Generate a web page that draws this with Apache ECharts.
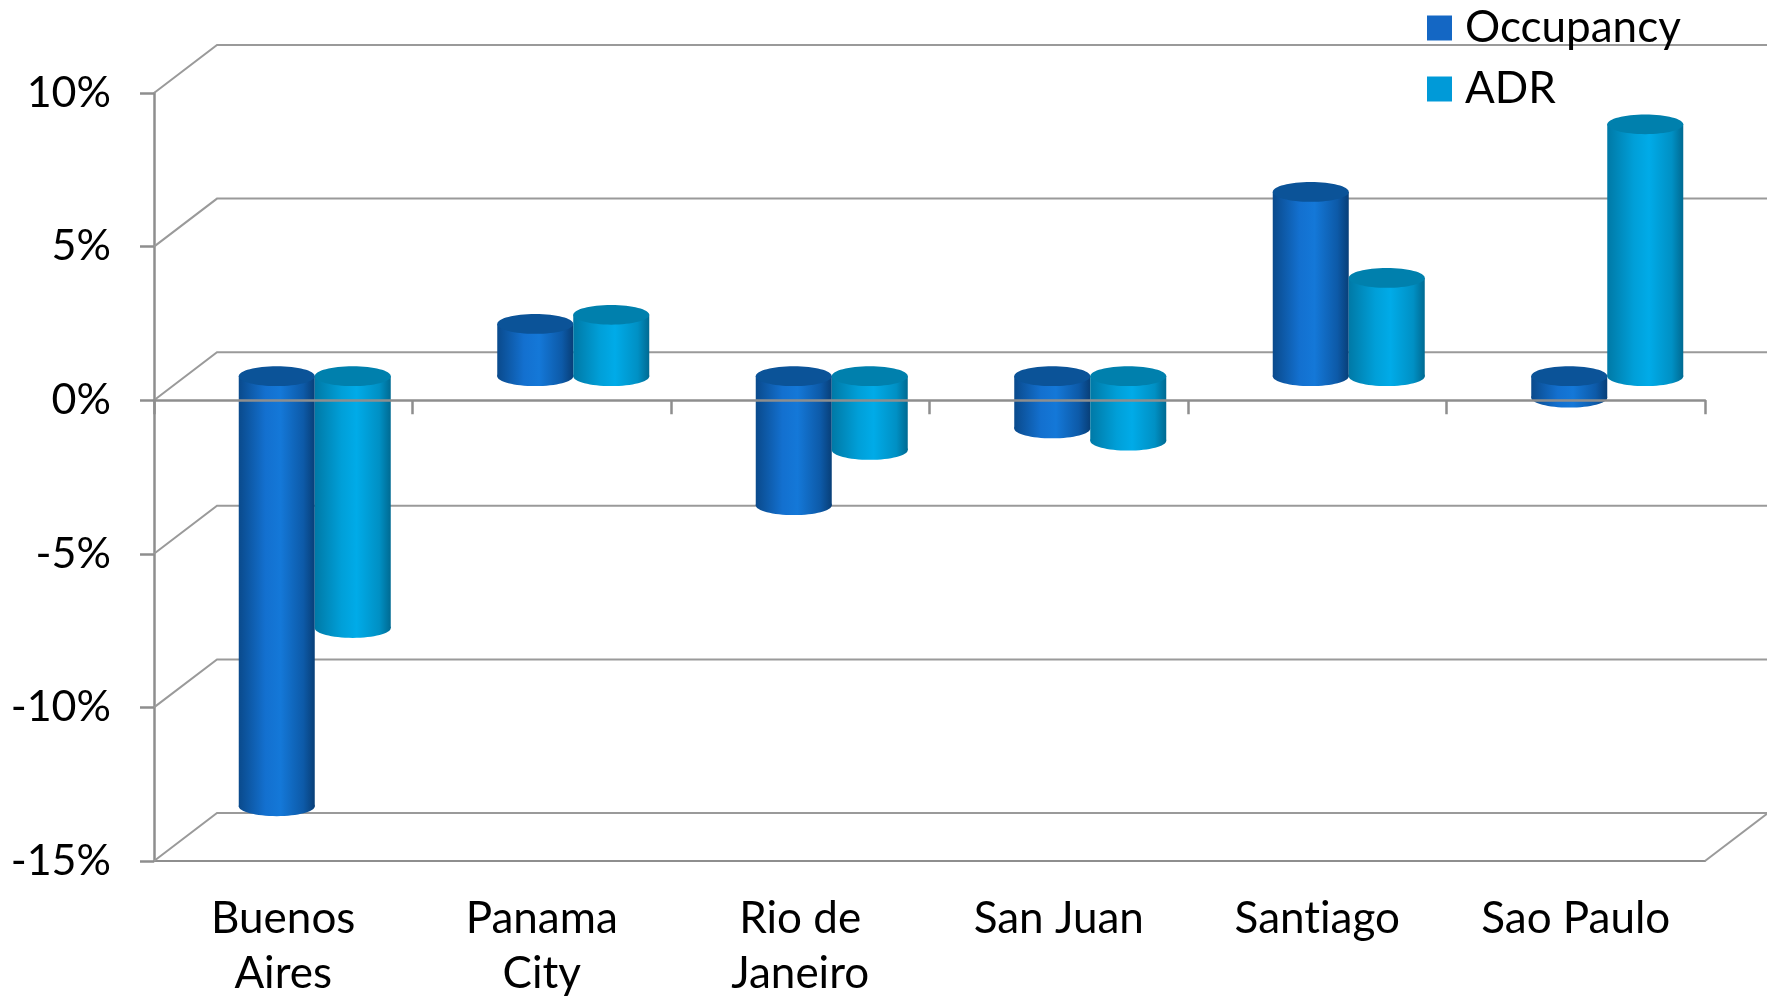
<!DOCTYPE html>
<html>
<head>
<meta charset="utf-8">
<script src="https://cdn.jsdelivr.net/npm/echarts@6/dist/echarts.min.js"></script>
<style>
  html, body { margin: 0; padding: 0; background: #ffffff; }
  #chart { width: 1767px; height: 1001px; }
</style>
</head>
<body>
<div id="chart"></div>
<script>
// Year-over-year change by market
// (a zero-width non-joiner in "Santiago" keeps the font from fusing "ti")
const categories = ['Buenos\nAires', 'Panama\nCity', 'Rio de\nJaneiro', 'San Juan', 'Sant\u200Ciago', 'Sao Paulo'];
const occupancy = [-14.0, 1.7, -4.2, -1.7, 6.0, -0.7];
const adr = [-8.2, 2.0, -2.4, -2.1, 3.2, 8.2];
const yTicks = [-15, -10, -5, 0, 5, 10];

// Pseudo-3D depth of the plot box (back wall offset from the front plane)
const DEPTH_X = 63;
const DEPTH_Y = 48;
const FONT = 'Lato, "Open Sans", sans-serif';
const AXIS_GREY = '#8e8e8e';

const palettes = {
  occupancy: { legend: '#1467c4', cap: '#0b5398', stops: ['#0a4a8c', '#1370cf', '#1478d8', '#0d5aa8', '#083f78'] },
  adr:       { legend: '#009ad8', cap: '#0080ad', stops: ['#0079a6', '#009fd8', '#00abe8', '#0090c4', '#006a92'] }
};

function bodyGradient(p) {
  return {
    type: 'linear', x: 0, y: 0, x2: 1, y2: 0,
    colorStops: [
      { offset: 0, color: p.stops[0] },
      { offset: 0.35, color: p.stops[1] },
      { offset: 0.55, color: p.stops[2] },
      { offset: 0.85, color: p.stops[3] },
      { offset: 1, color: p.stops[4] }
    ]
  };
}

// Cylinder column: side = -1 draws left of the category centre, +1 right of it
function cylinderRenderer(p, side) {
  return function (params, api) {
    const idx = api.value(0);
    const val = api.value(1);
    const end = api.coord([idx, val]);
    const base = api.coord([idx, 0]);
    const band = api.size([1, 0])[0];
    const w = band * 0.294;
    const rx = w / 2;
    const ry = w * 0.13;
    const cx = end[0] + DEPTH_X / 2 + side * w / 2;
    const yv = end[1] - DEPTH_Y / 2;
    const y0 = base[1] - DEPTH_Y / 2;
    const yTop = Math.min(yv, y0);
    const yBot = Math.max(yv, y0);
    const grad = bodyGradient(p);
    return {
      type: 'group',
      children: [
        { type: 'ellipse', shape: { cx: cx, cy: yBot, rx: rx, ry: ry }, style: { fill: grad } },
        { type: 'rect', shape: { x: cx - rx, y: yTop, width: w, height: yBot - yTop }, style: { fill: grad } },
        { type: 'ellipse', shape: { cx: cx, cy: yTop, rx: rx, ry: ry }, style: { fill: p.cap } }
      ]
    };
  };
}

// Back wall grid lines and the floor edge
function wallRenderer(params, api) {
  const cs = params.coordSys;
  const v = api.value(1);
  const y = api.coord([0, v])[1];
  const x0 = cs.x;
  const x1 = cs.x + cs.width;
  const line = { stroke: '#9a9a9a', lineWidth: 2, fill: null };
  const children = [{
    type: 'polyline',
    shape: { points: [[x0, y], [x0 + DEPTH_X, y - DEPTH_Y], [x1 + DEPTH_X + 5, y - DEPTH_Y]] },
    style: line
  }];
  if (v === yTicks[0]) {
    children.push({ type: 'line', shape: { x1: x1, y1: y, x2: x1 + DEPTH_X, y2: y - DEPTH_Y }, style: line });
  }
  return { type: 'group', children: children };
}

const chart = echarts.init(document.getElementById('chart'), null, { renderer: 'canvas' });

chart.setOption({
  animation: false,
  backgroundColor: '#ffffff',
  grid: { left: 154, right: 62, top: 93, bottom: 139, containLabel: false },
  legend: {
    data: ['Occupancy', 'ADR'],
    orient: 'vertical',
    left: 1422,
    top: 1,
    icon: 'rect',
    itemWidth: 25,
    itemHeight: 25,
    itemGap: 17,
    textStyle: { fontFamily: FONT, fontSize: 44, lineHeight: 44, color: '#000', padding: [0, 0, 0, 8] }
  },
  xAxis: [
    {
      type: 'category',
      data: categories,
      position: 'bottom',
      axisLine: { show: true, onZero: false, lineStyle: { color: AXIS_GREY, width: 2 } },
      axisTick: { show: false },
      splitLine: { show: false },
      axisLabel: { interval: 0, margin: 30, fontFamily: FONT, fontSize: 44, lineHeight: 55, color: '#000' }
    },
    {
      type: 'category',
      data: categories,
      position: 'bottom',
      z: 5,
      axisLine: { show: true, onZero: true, lineStyle: { color: AXIS_GREY, width: 2.5 } },
      axisTick: { show: true, length: 14, lineStyle: { color: AXIS_GREY, width: 2.5 } },
      axisLabel: { show: false },
      splitLine: { show: false }
    }
  ],
  yAxis: {
    type: 'value',
    min: -15,
    max: 10,
    interval: 5,
    axisLine: { show: true, lineStyle: { color: AXIS_GREY, width: 2.5 } },
    axisTick: { show: true, length: 14, lineStyle: { color: AXIS_GREY, width: 2.5 } },
    splitLine: { show: false },
    axisLabel: { margin: 43, fontFamily: FONT, fontSize: 43, color: '#000', formatter: '{value}%' }
  },
  series: [
    {
      type: 'custom',
      name: 'wall',
      silent: true,
      z: 1,
      data: yTicks.map(function (v) { return [0, v]; }),
      encode: { x: 0, y: 1 },
      renderItem: wallRenderer
    },
    {
      type: 'custom',
      name: 'Occupancy',
      z: 3,
      itemStyle: { color: palettes.occupancy.legend },
      data: occupancy.map(function (v, i) { return [i, v]; }),
      encode: { x: 0, y: 1 },
      renderItem: cylinderRenderer(palettes.occupancy, -1)
    },
    {
      type: 'custom',
      name: 'ADR',
      z: 3,
      itemStyle: { color: palettes.adr.legend },
      data: adr.map(function (v, i) { return [i, v]; }),
      encode: { x: 0, y: 1 },
      renderItem: cylinderRenderer(palettes.adr, 1)
    }
  ]
});
</script>
</body>
</html>
